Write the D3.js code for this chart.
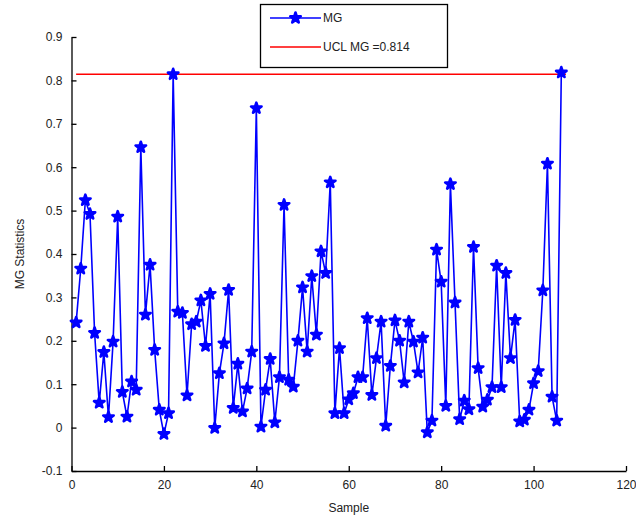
<!DOCTYPE html>
<html>
<head>
<meta charset="utf-8">
<script src="https://cdn.jsdelivr.net/npm/d3@7"></script>
<style>
  body { margin: 0; background: #fff; }
  svg { display: block; font-family: "Liberation Sans", Arial, sans-serif; }
</style>
</head>
<body>
<svg id="chart" width="636" height="517"></svg>
<script>
// MG statistic per sample (samples 1..106)
const samples = d3.range(1, 107);
const mgValues = [
  0.242, 0.366, 0.524, 0.492, 0.218, 0.057, 0.174, 0.024, 0.198, 0.486,
  0.082, 0.025, 0.106, 0.087, 0.646, 0.260, 0.375, 0.179, 0.041, -0.015,
  0.033, 0.814, 0.267, 0.264, 0.074, 0.238, 0.244, 0.293, 0.188, 0.308,
  -0.001, 0.125, 0.194, 0.317, 0.045, 0.147, 0.037, 0.090, 0.175, 0.736,
  0.002, 0.087, 0.158, 0.012, 0.116, 0.513, 0.110, 0.094, 0.200, 0.323,
  0.175, 0.349, 0.214, 0.406, 0.356, 0.565, 0.033, 0.183, 0.033, 0.065,
  0.079, 0.116, 0.116, 0.252, 0.075, 0.160, 0.244, 0.004, 0.142, 0.247,
  0.200, 0.104, 0.244, 0.198, 0.127, 0.207, -0.011, 0.016, 0.410, 0.336,
  0.050, 0.561, 0.288, 0.019, 0.062, 0.042, 0.416, 0.137, 0.048, 0.064,
  0.093, 0.373, 0.093, 0.356, 0.160, 0.248, 0.014, 0.018, 0.041, 0.102,
  0.130, 0.316, 0.608, 0.071, 0.016, 0.818
];

// Upper control limit and its horizontal extent
const uclValue = 0.814;
const uclRange = [1, 107];

const xTicks = [0, 20, 40, 60, 80, 100, 120];
const yTicks = [-0.1, 0, 0.1, 0.2, 0.3, 0.4, 0.5, 0.6, 0.7, 0.8, 0.9];
const yTickLabels = ["-0.1", "0", "0.1", "0.2", "0.3", "0.4", "0.5", "0.6", "0.7", "0.8", "0.9"];

const legendLabels = ["MG", "UCL MG =0.814"];
const seriesColor = "#0000ff";
const uclColor = "#ff0000";

const svg = d3.select("#chart");
const plotLeft = 71.5, plotRight = 626, plotTop = 37, plotBottom = 471;

const x = d3.scaleLinear().domain([0, 120]).range([plotLeft, plotRight]);
const y = d3.scaleLinear().domain([-0.1, 0.9]).range([plotBottom, plotTop]);

// Axes (ticks pointing inward)
const xAxis = d3.axisBottom(x).tickValues(xTicks).tickSizeInner(-5).tickSizeOuter(0).tickPadding(9)
  .tickFormat(d3.format("d"));
const yAxis = d3.axisLeft(y).tickValues(yTicks).tickSizeInner(-5).tickSizeOuter(0).tickPadding(9)
  .tickFormat((d, i) => yTickLabels[i]);

const gx = svg.append("g").attr("transform", `translate(0,${plotBottom})`).call(xAxis);
const gy = svg.append("g").attr("transform", `translate(${plotLeft},0)`).call(yAxis);
[gx, gy].forEach(g => {
  g.selectAll("path.domain").attr("stroke", "#000").attr("stroke-width", 1.3);
  g.selectAll(".tick line").attr("stroke", "#000").attr("stroke-width", 1.3);
  g.selectAll(".tick text").attr("fill", "#222").attr("font-size", 12)
    .attr("font-family", "'Liberation Sans', Arial, sans-serif");
});

// Axis titles
svg.append("text").attr("x", (plotLeft + plotRight) / 2).attr("y", 512)
  .attr("text-anchor", "middle").attr("font-size", 12).attr("fill", "#222").text("Sample");
svg.append("text").attr("transform", `translate(24,${(plotTop + plotBottom) / 2}) rotate(-90)`)
  .attr("text-anchor", "middle").attr("font-size", 12).attr("fill", "#222").text("MG Statistics");

// UCL line
svg.append("line")
  .attr("x1", x(uclRange[0])).attr("x2", x(uclRange[1]))
  .attr("y1", y(uclValue)).attr("y2", y(uclValue))
  .attr("stroke", uclColor).attr("stroke-width", 1.5);

// MG series line
const pts = samples.map((s, i) => [s, mgValues[i]]);
svg.append("path").datum(pts)
  .attr("fill", "none").attr("stroke", seriesColor).attr("stroke-width", 1.6)
  .attr("d", d3.line().x(d => x(d[0])).y(d => y(d[1])));

// Filled pentagram markers
const star = d3.symbol().type(d3.symbolStar).size(34);
svg.append("g").selectAll("path").data(pts).join("path")
  .attr("transform", d => `translate(${x(d[0])},${y(d[1])})`)
  .attr("d", star)
  .attr("fill", seriesColor).attr("stroke", seriesColor).attr("stroke-width", 2.6)
  .attr("stroke-linejoin", "round");

// Legend
const lg = svg.append("g");
lg.append("rect").attr("x", 260.5).attr("y", 4.5).attr("width", 187).attr("height", 63)
  .attr("fill", "#fff").attr("stroke", "#000").attr("stroke-width", 1.3);
const rowY = [18, 47];
lg.append("line").attr("x1", 270).attr("x2", 321).attr("y1", rowY[0]).attr("y2", rowY[0])
  .attr("stroke", seriesColor).attr("stroke-width", 1.6);
lg.append("path").attr("transform", `translate(295.5,${rowY[0]})`).attr("d", star)
  .attr("fill", seriesColor).attr("stroke", seriesColor).attr("stroke-width", 2.6)
  .attr("stroke-linejoin", "round");
lg.append("line").attr("x1", 270).attr("x2", 321).attr("y1", rowY[1]).attr("y2", rowY[1])
  .attr("stroke", uclColor).attr("stroke-width", 1.5);
legendLabels.forEach((t, i) => {
  lg.append("text").attr("x", 323).attr("y", rowY[i]).attr("dy", "0.35em")
    .attr("font-size", 12).attr("fill", "#222").text(t);
});
</script>
</body>
</html>
